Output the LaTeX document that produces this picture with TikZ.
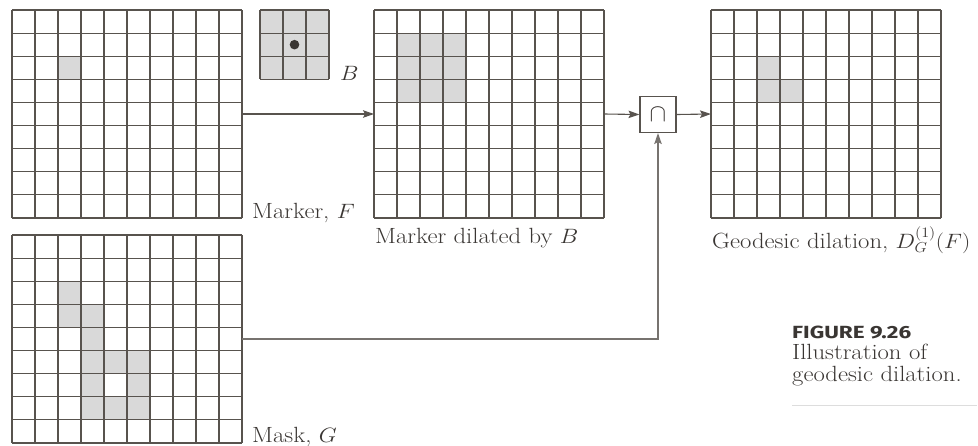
\documentclass[tikz,border=0pt]{standalone}
\usepackage{graphicx}
\usepackage{fontspec}
\newfontfamily\capfont{Fira Sans}
\usetikzlibrary{arrows.meta}
\definecolor{ln}{HTML}{58534E}
\definecolor{sh}{HTML}{D9D9D9}
\definecolor{tx}{HTML}{3A3633}
\definecolor{rulecol}{HTML}{DDDDDD}
\definecolor{ln2}{HTML}{77736F}
\newcommand{\wide}[1]{\scalebox{1.12}[1]{#1}}
\tikzset{
  gl/.style={draw=ln, line width=1.2pt},
  gridbox/.style={draw=none, anchor=north west, inner sep=0pt, outer sep=0pt},
  arr/.style={draw=ln, line width=1.1pt, -{Stealth[length=11pt,width=7.5pt,inset=2pt]}},
  lbl/.style={anchor=base west, inner sep=0pt, text=tx, font=\fontsize{22}{26}\selectfont},
  captxt/.style={anchor=base west, inner sep=0pt, text=tx},
}
\newcommand{\cellgrid}[4]{% node, cols, rows, shaded list
  \begin{scope}[shift={(#1.north west)}, x=23pt, y=-23.11pt]
    \foreach \c/\r in {#4} \fill[sh] (\c,\r) rectangle ++(1,1);
    \foreach \i in {0,...,#2} \draw[gl] (\i,0) -- (\i,#3);
    \foreach \j in {0,...,#3} \draw[gl] (0,\j) -- (#2,\j);
  \end{scope}}
\begin{document}
\begin{tikzpicture}[x=1pt, y=-1pt]
  \useasboundingbox[fill=white] (0,0) rectangle (978,445);
  % grids
  \node[gridbox, minimum width=230pt, minimum height=208pt] (F) at (12,10) {};
  \node[gridbox, minimum width=230pt, minimum height=208pt] (D) at (374,10) {};
  \node[gridbox, minimum width=230pt, minimum height=208pt] (R) at (711,10) {};
  \node[gridbox, minimum width=230pt, minimum height=208pt] (G) at (12,235) {};
  \node[gridbox, minimum width=69pt, minimum height=69.33pt] (B) at (260,10) {};
  \cellgrid{F}{10}{9}{2/2}
  \cellgrid{D}{10}{9}{1/1,2/1,3/1,1/2,2/2,3/2,1/3,2/3,3/3}
  \cellgrid{R}{10}{9}{2/2,2/3,3/3}
  \cellgrid{G}{10}{9}{2/2,2/3,3/3,3/4,3/5,4/5,5/5,3/6,5/6,3/7,4/7,5/7}
  \cellgrid{B}{3}{3}{0/0,1/0,2/0,0/1,1/1,2/1,0/2,1/2,2/2}
  \fill[tx] (B.center) circle (4.8pt);
  % intersection
  \node[draw=ln, line width=1.1pt, minimum size=36pt, inner sep=0pt, text=tx,
        font=\fontsize{26}{28}\selectfont] (I) at (658,114.5) {$\cap$};
  % connectors
  \draw[arr] (F.east) -- (D.west);
  \draw[arr] (D.east) -- (I.west);
  \draw[arr] (I.east) -- (R.west);
  \draw[arr, draw=ln2] (G.east) -| (I.south);
  % labels
  \node[lbl] (lF) at (252,218) {\wide{Marker, $F$}};
  \node[lbl] (lB) at (340,80) {\wide{$B$}};
  \node[lbl] (lD) at (375,243) {\wide{Marker dilated by $B$}};
  \node[lbl] (lR) at (712,248) {\wide{Geodesic dilation, $D_G^{(1)}(F)$}};
  \node[lbl] (lG) at (252,442) {\wide{Mask, $G$}};
  % caption
  \node[captxt, font=\capfont\bfseries\fontsize{19}{20}\selectfont] (c1) at (792,338.5)
       {\resizebox{119pt}{12.5pt}{FIGURE 9.26}};
  \node[lbl] (c2) at (792,359.5) {\wide{Illustration of}};
  \node[lbl] (c3) at (792,381) {\wide{geodesic dilation.}};
  \draw[rulecol, line width=1pt] (792,405) -- (977,405);
\end{tikzpicture}
\end{document}
